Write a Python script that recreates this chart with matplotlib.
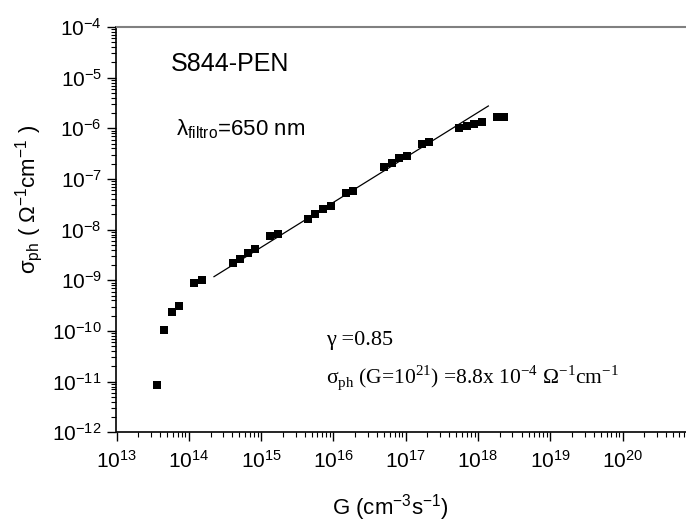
import numpy as np
import matplotlib
matplotlib.use("Agg")
import matplotlib.pyplot as plt
from matplotlib.ticker import FixedLocator, LogLocator, NullFormatter, LogFormatterMathtext

plt.rcParams['font.family'] = ['Liberation Sans', 'DejaVu Sans']
plt.rcParams['mathtext.fontset'] = 'custom'
plt.rcParams['mathtext.rm'] = 'Liberation Sans'

# ---- donnees ----
G = [3.6e13, 4.54e13, 5.8e13, 7.4e13, 1.19e14, 1.52e14,
     4.05e14, 5.1e14, 6.53e14, 8.24e14, 1.33e15, 1.70e15,
     4.42e15, 5.62e15, 7.18e15, 9.18e15, 1.48e16, 1.88e16,
     5.01e16, 6.40e16, 8.15e16, 1.03e17, 1.66e17, 2.10e17,
     5.46e17, 6.98e17, 8.89e17, 1.12e18, 1.82e18, 2.31e18]
sigma_ph = [8.4e-12, 1.05e-10, 2.34e-10, 3.15e-10, 8.77e-10, 1.02e-9,
            2.17e-9, 2.64e-9, 3.43e-9, 4.11e-9, 7.52e-9, 8.13e-9,
            1.65e-8, 2.04e-8, 2.56e-8, 2.98e-8, 5.37e-8, 5.89e-8,
            1.75e-7, 2.10e-7, 2.56e-7, 2.89e-7, 4.91e-7, 5.31e-7,
            1.00e-6, 1.11e-6, 1.22e-6, 1.32e-6, 1.70e-6, 1.70e-6]

# droite d'ajustement (extremites)
G_fit = [2.23e14, 1.39e18]
sigma_fit = [1.18e-9, 2.76e-6]

x_decades = [13, 14, 15, 16, 17, 18, 19, 20]
y_decades = [-12, -11, -10, -9, -8, -7, -6, -5, -4]

fig = plt.figure(figsize=(6.86, 5.22), dpi=100)
W, H = 686, 522
# l'axe x va jusqu'a 1e21, coupe par le bord droit de l'image
ax = fig.add_axes([116.5 / W, (H - 432.3) / H, (694.9 - 116.5) / W, (432.3 - 27) / H])

ax.plot(G, sigma_ph, 's', color='black', markersize=6, markeredgewidth=0)
ax.plot(G_fit, sigma_fit, '-', color='black', linewidth=0.9)

ax.set_xscale('log')
ax.set_yscale('log')
ax.set_xlim(1e13, 1e21)
ax.set_ylim(1e-12, 1e-4)

ax.xaxis.set_major_locator(FixedLocator([10.0 ** d for d in x_decades]))
ax.yaxis.set_major_locator(FixedLocator([10.0 ** d for d in y_decades]))
ax.xaxis.set_major_formatter(LogFormatterMathtext())
ax.yaxis.set_major_formatter(LogFormatterMathtext())
ax.xaxis.set_minor_locator(LogLocator(base=10, subs=np.arange(2, 10), numticks=20))
ax.yaxis.set_minor_locator(LogLocator(base=10, subs=np.arange(2, 10), numticks=20))
ax.xaxis.set_minor_formatter(NullFormatter())
ax.yaxis.set_minor_formatter(NullFormatter())

ax.tick_params(which='major', direction='out', length=6.5, width=1.0, labelsize=15, pad=4)
ax.tick_params(which='minor', direction='out', length=3.5, width=0.8)
ax.tick_params(axis='x', which='major', pad=6)
ax.tick_params(top=False, right=False)

for s in ['left', 'bottom']:
    ax.spines[s].set_linewidth(1.2)
    ax.spines[s].set_color('black')
ax.spines['top'].set_color('#808080')
ax.spines['top'].set_linewidth(1.5)
ax.spines['right'].set_visible(False)

fig.text(390 / W, 1 - 508 / H, r'G (cm$^{\mathdefault{-3}}$s$^{\mathdefault{-1}}$)',
         fontsize=16, ha='center', va='center')
fig.text(29 / W, 1 - 199 / H,
         r'σ$_{\mathdefault{ph}}$ ( Ω$^{\mathdefault{-1}}$cm$^{\mathdefault{-1}}$ )',
         fontsize=16, rotation=90, ha='center', va='center')

fig.text(171 / W, 1 - 64 / H, 'S844-PEN', fontsize=18, ha='left', va='center')
fig.text(176 / W, 1 - 135 / H, r'λ$_{\mathdefault{filtro}}$=650 nm', fontsize=16,
         ha='left', va='baseline')

fig.text(326 / W, 1 - 345 / H, 'γ =0.85', fontsize=16, ha='left', va='baseline',
         family='Liberation Serif')
fig.text(326 / W, 1 - 383 / H,
         r'σ$_{\mathdefault{ph}}$ (G=10$^{\mathdefault{21}}$) =8.8x 10$^{\mathdefault{-4}}$ '
         r'Ω$^{\mathdefault{-1}}$cm$^{\mathdefault{-1}}$',
         fontsize=15.5, ha='left', va='baseline', family='Liberation Serif')

fig.savefig('out.png', dpi=100)
